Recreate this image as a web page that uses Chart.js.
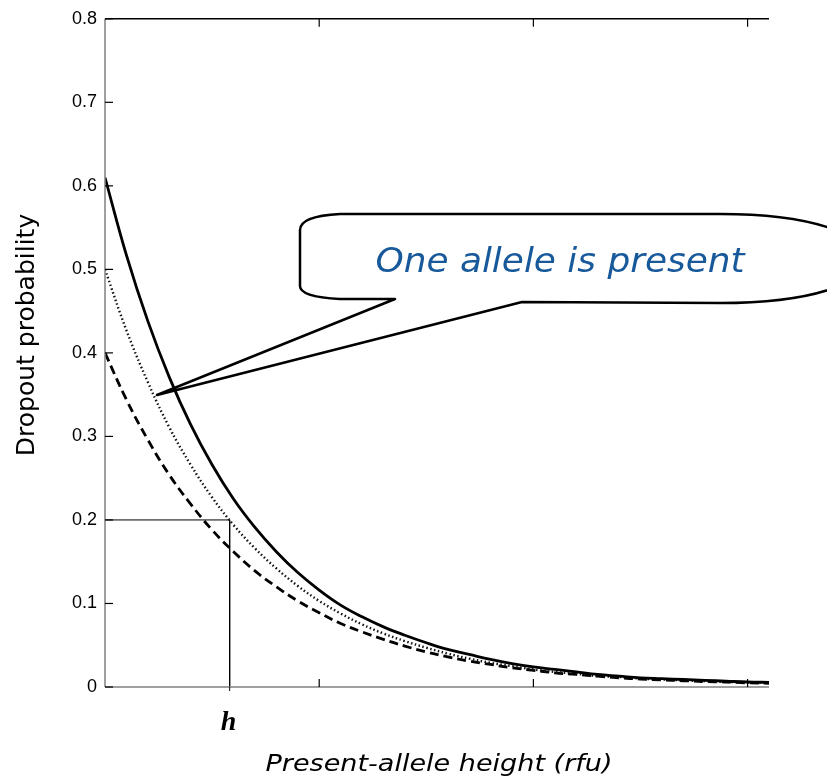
<!DOCTYPE html>
<html>
<head>
<meta charset="utf-8">
<script src="https://cdn.jsdelivr.net/npm/chart.js@4.4.1/dist/chart.umd.min.js"></script>
<style>
  html, body { margin: 0; padding: 0; background: #fff; }
  #wrap { width: 827px; height: 780px; }
</style>
</head>
<body>
<div id="wrap"><canvas id="c" width="827" height="780"></canvas></div>
<script>
// present-allele height (arbitrary rfu units)
const heights = [0, 100, 200, 300, 400, 500, 600, 700, 800, 900, 1000, 1100, 1200, 1300, 1400, 1500,
                 1600, 1700, 1800, 1900, 2000, 2100, 2200, 2300, 2400, 2500, 2600, 2700, 2800, 2900, 3000, 3100];
const solidProb = [0.610, 0.517, 0.438, 0.371, 0.314, 0.266, 0.225, 0.191, 0.162, 0.137, 0.116, 0.098,
                   0.084, 0.072, 0.062, 0.053, 0.045, 0.039, 0.033, 0.028, 0.024, 0.021, 0.018, 0.015,
                   0.013, 0.011, 0.010, 0.009, 0.008, 0.007, 0.006, 0.0055];
const dottedProb = [0.500, 0.427, 0.365, 0.311, 0.266, 0.227, 0.194, 0.166, 0.142, 0.121, 0.103, 0.088,
                    0.075, 0.064, 0.055, 0.047, 0.040, 0.034, 0.029, 0.025, 0.021, 0.018, 0.016, 0.013,
                    0.012, 0.010, 0.009, 0.008, 0.007, 0.006, 0.0055, 0.005];
const dashedProb = [0.400, 0.344, 0.296, 0.254, 0.219, 0.188, 0.162, 0.139, 0.120, 0.103, 0.089, 0.076,
                    0.066, 0.057, 0.049, 0.042, 0.036, 0.031, 0.027, 0.023, 0.020, 0.017, 0.015, 0.013,
                    0.011, 0.0095, 0.0085, 0.0075, 0.0065, 0.006, 0.005, 0.0045];
const yTicks = [0, 0.1, 0.2, 0.3, 0.4, 0.5, 0.6, 0.7, 0.8];
const xTicks = [1000, 2000, 3000];
const hValue = 582;
const hProb = 0.2;
const calloutText = 'One allele is present';
const xTitle = 'Present-allele height (rfu)';
const yTitle = 'Dropout probability';

function pts(ys) {
    return heights.map((h, i) => ({ x: h, y: ys[i] }));
}

function line(ctx, x1, y1, x2, y2) {
    ctx.beginPath();
    ctx.moveTo(x1, y1);
    ctx.lineTo(x2, y2);
    ctx.stroke();
}

// draw text squeezed/stretched to a given width (the picture is a bit wide)
function fitText(ctx, txt, cx, baseline, font, width) {
    ctx.font = font;
    const w = ctx.measureText(txt).width;
    ctx.save();
    ctx.translate(cx, baseline);
    ctx.scale(width / w, 1);
    ctx.textAlign = 'center';
    ctx.textBaseline = 'alphabetic';
    ctx.fillText(txt, 0, 0);
    ctx.restore();
}

// box, inward ticks and text labels
const framePlugin = {
    id: 'frame',
    afterDatasetsDraw(chart) {
        const { ctx, chartArea: a, scales: { x, y } } = chart;
        ctx.save();
        ctx.lineWidth = 1.5;
        ctx.strokeStyle = '#7f7f7f';
        line(ctx, a.left, a.top, a.left, a.bottom);
        line(ctx, a.left, a.bottom, a.right, a.bottom);
        ctx.strokeStyle = '#000';
        line(ctx, a.left, a.top, a.right, a.top);

        ctx.lineWidth = 1.2;
        yTicks.forEach(v => {
            const py = y.getPixelForValue(v);
            line(ctx, a.left, py, a.left + 8, py);
        });
        xTicks.forEach(v => {
            const px = x.getPixelForValue(v);
            line(ctx, px, a.bottom, px, a.bottom - 8);
            line(ctx, px, a.top, px, a.top + 8);
        });
        // h guide runs a little past the axis
        const hx = x.getPixelForValue(hValue);
        ctx.lineWidth = 1;
        line(ctx, hx, a.bottom, hx, a.bottom + 4);

        // axis titles
        ctx.fillStyle = '#000';
        fitText(ctx, xTitle, 439, 771, 'italic 23px "DejaVu Sans"', 347);
        ctx.font = 'bold italic 28px "Liberation Serif"';
        ctx.textAlign = 'center';
        ctx.textBaseline = 'alphabetic';
        ctx.fillText('h', hx - 1, 730);

        ctx.save();
        ctx.translate(34, 335);
        ctx.rotate(-Math.PI / 2);
        ctx.font = '25px "DejaVu Sans"';
        ctx.textAlign = 'center';
        ctx.fillText(yTitle, 0, 0);
        ctx.restore();

        // speech-bubble callout
        ctx.beginPath();
        ctx.moveTo(300, 230);
        ctx.quadraticCurveTo(300, 216, 340, 214);
        ctx.lineTo(720, 214);
        ctx.quadraticCurveTo(830, 214, 870, 250);
        ctx.lineTo(870, 268);
        ctx.quadraticCurveTo(830, 303, 720, 303);
        ctx.lineTo(522, 302);
        ctx.lineTo(157, 395);
        ctx.lineTo(395, 299);
        ctx.lineTo(340, 299);
        ctx.quadraticCurveTo(300, 297, 300, 286);
        ctx.closePath();
        ctx.fillStyle = '#fff';
        ctx.fill();
        ctx.lineWidth = 2.5;
        ctx.strokeStyle = '#000';
        ctx.lineJoin = 'round';
        ctx.stroke();

        ctx.fillStyle = '#17599b';
        fitText(ctx, calloutText, 560, 272, 'italic 33px "DejaVu Sans"', 369);
        ctx.restore();
    }
};

new Chart(document.getElementById('c'), {
    type: 'scatter',
    data: {
        datasets: [
            {
                data: pts(solidProb),
                showLine: true, borderColor: '#000', borderWidth: 2.8,
                pointRadius: 0, tension: 0.4
            },
            {
                data: pts(dottedProb),
                showLine: true, borderColor: '#111', borderWidth: 2.4,
                borderDash: [1.5, 2.5], pointRadius: 0, tension: 0.4
            },
            {
                data: pts(dashedProb),
                showLine: true, borderColor: '#000', borderWidth: 2.8,
                borderDash: [9, 5], pointRadius: 0, tension: 0.4
            },
            {
                data: [{ x: 0, y: hProb }, { x: hValue, y: hProb }, { x: hValue, y: 0 }],
                showLine: true, borderColor: '#000', borderWidth: 1,
                pointRadius: 0, tension: 0
            }
        ]
    },
    options: {
        responsive: false,
        animation: false,
        devicePixelRatio: 1,
        layout: { padding: { top: 15, right: 58, left: 0, bottom: 0 } },
        plugins: { legend: { display: false }, tooltip: { enabled: false } },
        scales: {
            x: {
                type: 'linear', min: 0, max: 3100,
                grid: { display: false, drawTicks: false },
                border: { display: false },
                ticks: { display: false },
                afterFit(scale) { scale.height = 93; }
            },
            y: {
                type: 'linear', min: 0, max: 0.8,
                grid: { display: false, drawTicks: false },
                border: { display: false },
                ticks: {
                    stepSize: 0.1,
                    padding: 8,
                    color: '#000',
                    font: { family: '"Liberation Sans"', size: 18 },
                    callback: v => (v === 0 ? '0' : v.toFixed(1))
                },
                afterFit(scale) { scale.width = 105; }
            }
        }
    },
    plugins: [framePlugin]
});
</script>
</body>
</html>
